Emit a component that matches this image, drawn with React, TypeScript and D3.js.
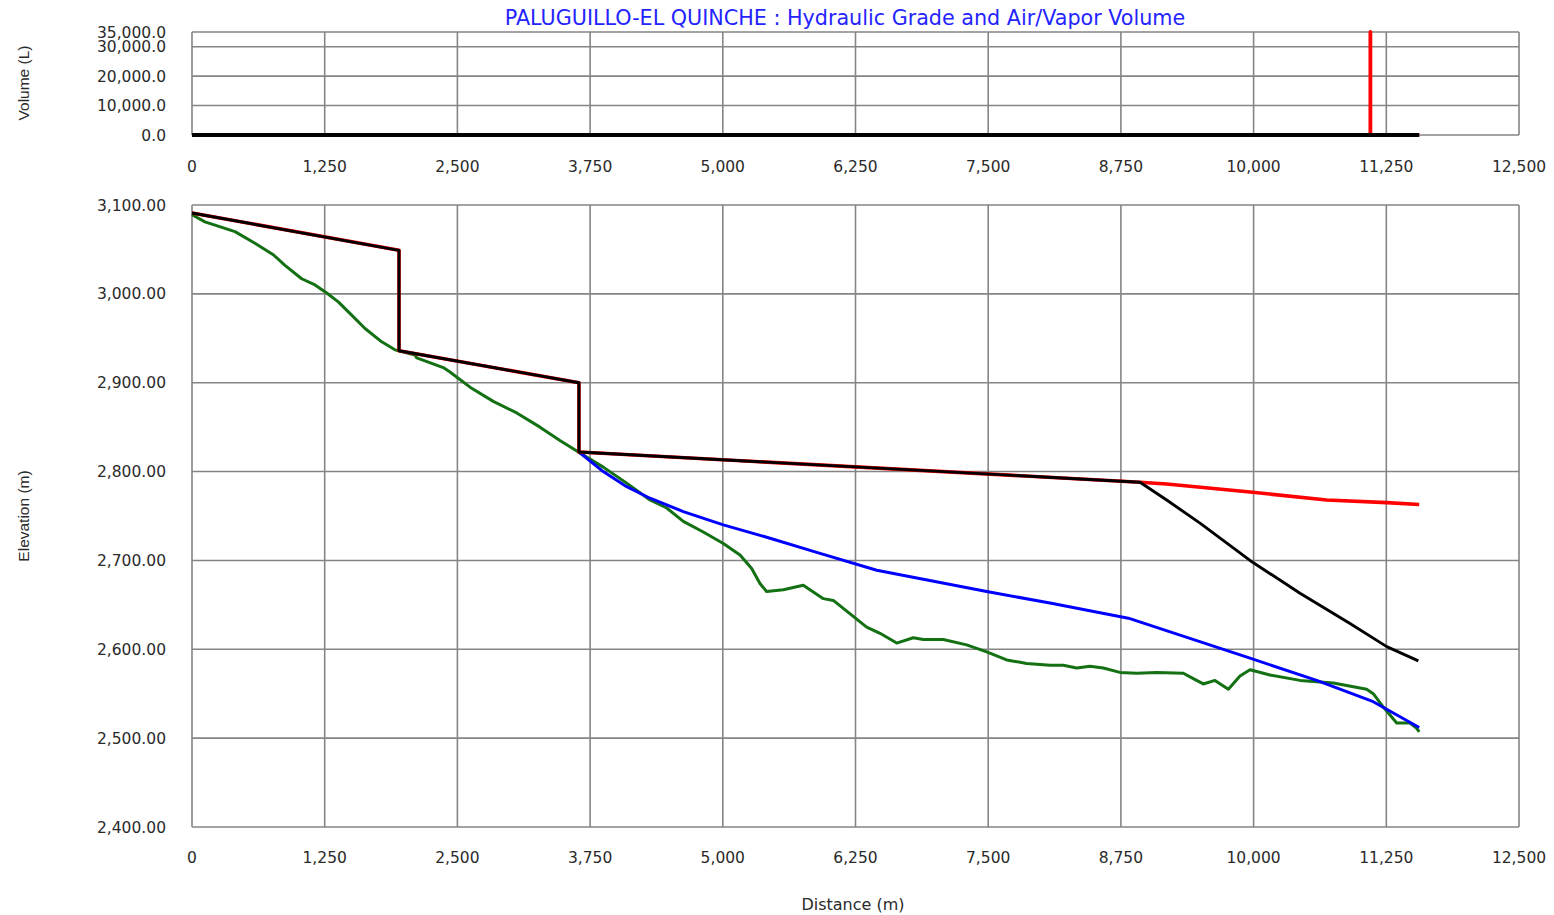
import React, { useRef, useEffect } from "react";
import { select, scaleLinear, line, format } from "d3";

// distance ticks (m)
const distTicks = [0, 1250, 2500, 3750, 5000, 6250, 7500, 8750, 10000, 11250, 12500];
const volTicks = [0, 10000, 20000, 30000, 35000];
const elevTicks = [2400, 2500, 2600, 2700, 2800, 2900, 3000, 3100];

// ground profile [distance, elevation]
const groundProfile: [number, number][] = [
  [0, 3089], [122, 3081], [405, 3070], [593, 3057], [766, 3044], [876, 3032],
  [1033, 3017], [1159, 3010], [1269, 3001], [1378, 2991], [1504, 2976],
  [1630, 2961], [1787, 2946], [1912, 2937], [2101, 2931], [2117, 2928],
  [2367, 2917], [2430, 2912], [2619, 2895], [2838, 2879], [3059, 2866],
  [3278, 2850], [3466, 2835], [3655, 2821], [3874, 2805], [4095, 2787],
  [4314, 2768], [4472, 2759], [4628, 2744], [4816, 2732], [5005, 2719],
  [5162, 2706], [5272, 2691], [5350, 2674], [5413, 2665], [5570, 2667],
  [5758, 2672], [5947, 2657], [6041, 2655], [6229, 2637], [6355, 2625],
  [6481, 2618], [6638, 2607], [6794, 2613], [6889, 2611], [7077, 2611],
  [7297, 2605], [7486, 2597], [7674, 2588], [7863, 2584], [8082, 2582],
  [8207, 2582], [8334, 2579], [8459, 2581], [8584, 2579], [8741, 2574],
  [8899, 2573], [9087, 2574], [9338, 2573], [9432, 2567], [9526, 2561],
  [9636, 2565], [9762, 2555], [9872, 2570], [9966, 2577], [10154, 2571],
  [10437, 2565], [10751, 2562], [11065, 2555], [11127, 2550], [11222, 2535],
  [11348, 2517], [11474, 2517], [11537, 2511], [11560, 2507],
];

// maximum hydraulic grade (red)
const maxHgl: [number, number][] = [
  [0, 3091], [1950, 3049], [1950, 2936], [3645, 2900], [3645, 2822],
  [8930, 2788], [9181, 2786], [9966, 2777], [10688, 2768], [11254, 2765], [11560, 2763],
];

// minimum hydraulic grade (black)
const minHgl: [number, number][] = [
  [0, 3091], [1950, 3049], [1950, 2936], [3645, 2900], [3645, 2822],
  [8930, 2788], [9181, 2768], [9495, 2742], [9966, 2700], [10437, 2663],
  [10908, 2629], [11254, 2603], [11552, 2587],
];

// initial hydraulic grade (blue)
const initialHgl: [number, number][] = [
  [3645, 2822], [3874, 2800], [4095, 2783], [4314, 2770], [4628, 2755],
  [5005, 2740], [5445, 2725], [5916, 2708], [6450, 2689], [7486, 2665],
  [8082, 2652], [8820, 2635], [9966, 2590], [10594, 2565], [11127, 2541], [11560, 2512],
];

// air/vapor volume (L)
const maxVolume: [number, number][] = [[0, 0], [11100, 0], [11100, 35000], [11100, 0], [11560, 0]];
const minVolume: [number, number][] = [[0, 0], [11560, 0]];

const FONT_H = "'DejaVu Sans', Verdana, sans-serif";
const FONT_V = "'Liberation Sans', Arial, sans-serif";

function App() {
  const svgRef = useRef<SVGSVGElement>(null);

  useEffect(() => {
    const svg = select(svgRef.current);
    svg.selectAll("*").remove();

    const xScale = scaleLinear().domain([0, 12500]).range([192, 1519]);
    const yVol = scaleLinear().domain([0, 35000]).range([135, 32]);
    const yElev = scaleLinear().domain([2400, 3100]).range([827, 205]);

    const drawPanel = (yScale: any, yTicks: number[], fmt: (n: number) => string, xLabelY: number) => {
      const [y0, y1] = yScale.range();
      const g = svg.append("g");
      // grid
      g.selectAll(".vgrid").data(distTicks).join("line")
        .attr("x1", (d) => xScale(d)).attr("x2", (d) => xScale(d))
        .attr("y1", y0).attr("y2", y1)
        .attr("stroke", "#858585").attr("stroke-width", 1.6);
      g.selectAll(".hgrid").data(yTicks).join("line")
        .attr("x1", xScale(0)).attr("x2", xScale(12500))
        .attr("y1", (d) => yScale(d)).attr("y2", (d) => yScale(d))
        .attr("stroke", "#858585").attr("stroke-width", 1.6);
      // tick labels
      g.selectAll(".ylab").data(yTicks).join("text")
        .attr("x", 166).attr("y", (d) => yScale(d))
        .attr("dy", "0.36em").attr("text-anchor", "end")
        .style("font-family", FONT_H).style("font-size", "15.5px").attr("fill", "#2a2a2a")
        .text((d) => fmt(d));
      g.selectAll(".xlab").data(distTicks).join("text")
        .attr("x", (d) => xScale(d)).attr("y", xLabelY)
        .attr("dy", "0.36em").attr("text-anchor", "middle")
        .style("font-family", FONT_H).style("font-size", "15.5px").attr("fill", "#2a2a2a")
        .text((d) => format(",")(d));
    };

    drawPanel(yVol, volTicks, format(",.1f"), 166);
    drawPanel(yElev, elevTicks, format(",.2f"), 857);

    const volLine = line<[number, number]>().x((d) => xScale(d[0])).y((d) => yVol(d[1]));
    const elevLine = line<[number, number]>().x((d) => xScale(d[0])).y((d) => yElev(d[1]));

    const addPath = (d: string | null, color: string, w: number) =>
      svg.append("path").attr("d", d).attr("fill", "none")
        .attr("stroke", color).attr("stroke-width", w)
        .attr("stroke-linejoin", "round");

    addPath(volLine(maxVolume), "#ff0000", 3.8);
    addPath(volLine(minVolume), "#000000", 3.8);

    addPath(elevLine(groundProfile), "#137013", 3);
    addPath(elevLine(initialHgl), "#0000ff", 3);
    addPath(elevLine(maxHgl), "#ff0000", 3.6);
    addPath(elevLine(minHgl), "#000000", 2.9);

    // titles
    svg.append("text")
      .attr("x", 845).attr("y", 18).attr("dy", "0.36em").attr("text-anchor", "middle")
      .style("font-family", FONT_H).style("font-size", "20.7px").attr("fill", "#2424ff")
      .text("PALUGUILLO-EL QUINCHE : Hydraulic Grade and Air/Vapor Volume");

    svg.append("text")
      .attr("x", 853).attr("y", 904).attr("dy", "0.36em").attr("text-anchor", "middle")
      .style("font-family", FONT_H).style("font-size", "16px").attr("fill", "#2a2a2a")
      .text("Distance (m)");

    svg.append("text")
      .attr("transform", "translate(23,516) rotate(-90)").attr("dy", "0.36em")
      .attr("text-anchor", "middle")
      .style("font-family", FONT_V).style("font-size", "15.5px").attr("fill", "#2a2a2a")
      .text("Elevation (m)");

    svg.append("text")
      .attr("transform", "translate(23,83) rotate(-90)").attr("dy", "0.36em")
      .attr("text-anchor", "middle")
      .style("font-family", FONT_V).style("font-size", "15.5px").attr("fill", "#2a2a2a")
      .text("Volume (L)");
  }, []);

  return (
    <div style={{ position: "absolute", left: 0, top: 0 }}>
      <svg ref={svgRef} width={1554} height={915} style={{ display: "block", background: "#fff" }} />
    </div>
  );
}

export default App;
